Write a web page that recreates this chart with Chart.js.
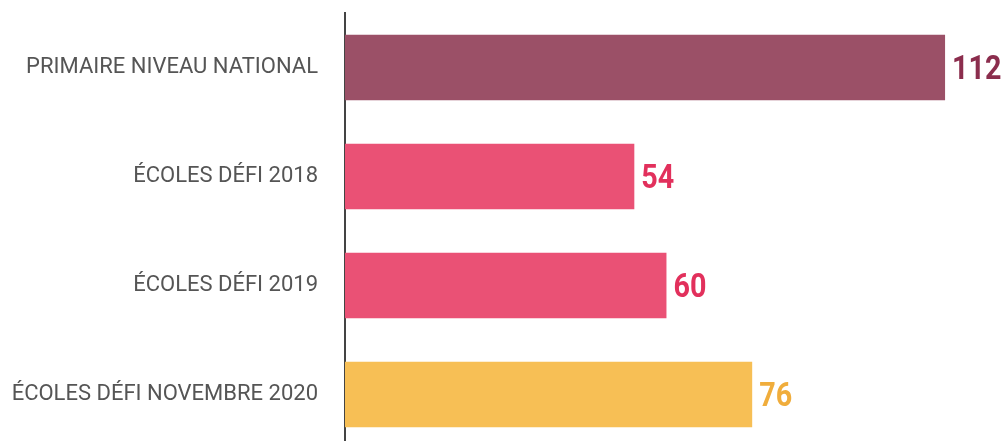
<!DOCTYPE html>
<html><head><meta charset="utf-8">
<script src="https://cdn.jsdelivr.net/npm/chart.js@4.4.1/dist/chart.umd.min.js"></script>
<style>
html,body{margin:0;padding:0;background:#fff;overflow:hidden;}
canvas{display:block;}
</style></head><body>
<canvas id="c" width="1004" height="449"></canvas>
<script>
const categories = ["PRIMAIRE NIVEAU NATIONAL", "ÉCOLES DÉFI 2018", "ÉCOLES DÉFI 2019", "ÉCOLES DÉFI NOVEMBRE 2020"];
const values = [112, 54, 60, 76];
const barColors = ["#9b5067", "#ea5175", "#ea5175", "#f7bf55"];
const labelColors = ["#8b2d4d", "#e2305c", "#e2305c", "#f0ad3c"];

const valueLabels = {
  id: "valueLabels",
  afterDatasetsDraw(chart) {
    const ctx = chart.ctx;
    const meta = chart.getDatasetMeta(0);
    meta.data.forEach((bar, i) => {
      ctx.save();
      ctx.translate(bar.x + 7, bar.y + 3);
      ctx.scale(0.87, 1);
      ctx.font = "bold 33px Roboto";
      ctx.textBaseline = "middle";
      ctx.textAlign = "left";
      ctx.fillStyle = labelColors[i];
      ctx.fillText(String(values[i]), 0, 0);
      ctx.restore();
    });
  }
};

new Chart(document.getElementById("c"), {
  type: "bar",
  data: {
    labels: categories,
    datasets: [{
      data: values,
      backgroundColor: barColors,
      borderWidth: 0,
      barPercentage: 0.6,
      categoryPercentage: 1
    }]
  },
  options: {
    indexAxis: "y",
    responsive: false,
    animation: false,
    layout: { padding: { top: 13, right: 0, bottom: 0, left: 0 } },
    plugins: { legend: { display: false }, tooltip: { enabled: false } },
    scales: {
      x: {
        display: false,
        min: 0,
        max: 123
      },
      y: {
        afterFit(scale) {
          scale.width = 345;
          scale.paddingTop = 0;
          scale.paddingBottom = 0;
        },
        grid: { display: false, drawTicks: false },
        border: { display: true, color: "#444", width: 2 },
        ticks: {
          color: "#555",
          font: { family: "Roboto", size: 22 },
          padding: 27
        }
      }
    }
  },
  plugins: [valueLabels]
});
</script>
</body></html>
